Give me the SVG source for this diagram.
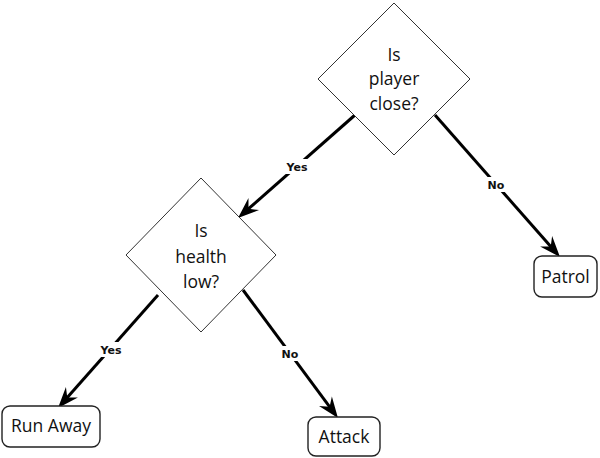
<svg xmlns="http://www.w3.org/2000/svg" width="600" height="458" viewBox="0 0 600 458">
<style>
.dia{fill:#fff;stroke:#333;stroke-width:1}
.box{fill:#fff;stroke:#222;stroke-width:1.4}
.t{font-family:"Open Sans","Noto Sans",sans-serif;font-size:17.5px;fill:#111;text-anchor:middle}
.edge{stroke:#000;stroke-width:3;fill:none;marker-end:url(#arr)}
.lbl{font-family:"DejaVu Sans","Liberation Sans",sans-serif;font-size:11px;font-weight:bold;fill:#111;text-anchor:middle}
.lbg{fill:#fff}
</style>
<defs>
<marker id="arr" markerUnits="userSpaceOnUse" viewBox="-14 -9 24 18" refX="0" refY="0" markerWidth="24" markerHeight="18" orient="auto">
<path d="M8,0 L-13,-8 L-6,0 L-13,8 Z" fill="#000"/>
</marker>
</defs>
<rect width="600" height="458" fill="#fff"/>
<g id="connectors">
<line class="edge" x1="355" y1="115" x2="244" y2="212.7"/>
<line class="edge" x1="435" y1="115" x2="554.7" y2="251"/>
<line class="edge" x1="158" y1="295" x2="63.3" y2="402"/>
<line class="edge" x1="243" y1="290" x2="333.2" y2="411.6"/>
<rect class="lbg" x="283" y="159" width="28" height="15"/>
<text class="lbl" x="297" y="171">Yes</text>
<rect class="lbg" x="484" y="177" width="24" height="15"/>
<text class="lbl" x="496" y="189">No</text>
<rect class="lbg" x="97" y="342" width="28" height="15"/>
<text class="lbl" x="111" y="354">Yes</text>
<rect class="lbg" x="278" y="346" width="24" height="15"/>
<text class="lbl" x="290" y="358">No</text>
</g>
<g id="q1">
<polygon class="dia" points="394,3 470,79 394,155 318,79"/>
<text class="t" x="394" y="61">Is</text>
<text class="t" x="394" y="85">player</text>
<text class="t" x="394" y="110">close?</text>
</g>
<g id="q2">
<polygon class="dia" points="201,178 276,255 201,332 126,255"/>
<text class="t" x="201" y="237">Is</text>
<text class="t" x="201" y="263">health</text>
<text class="t" x="201" y="288">low?</text>
</g>
<g id="patrol">
<rect class="box" x="534" y="256" width="63" height="41" rx="8"/>
<text class="t" x="565.5" y="283">Patrol</text>
</g>
<g id="runaway">
<rect class="box" x="2" y="406" width="98" height="41" rx="8"/>
<text class="t" x="51" y="432">Run Away</text>
</g>
<g id="attack">
<rect class="box" x="308" y="417" width="72" height="39" rx="8"/>
<text class="t" x="344" y="443">Attack</text>
</g>
</svg>
